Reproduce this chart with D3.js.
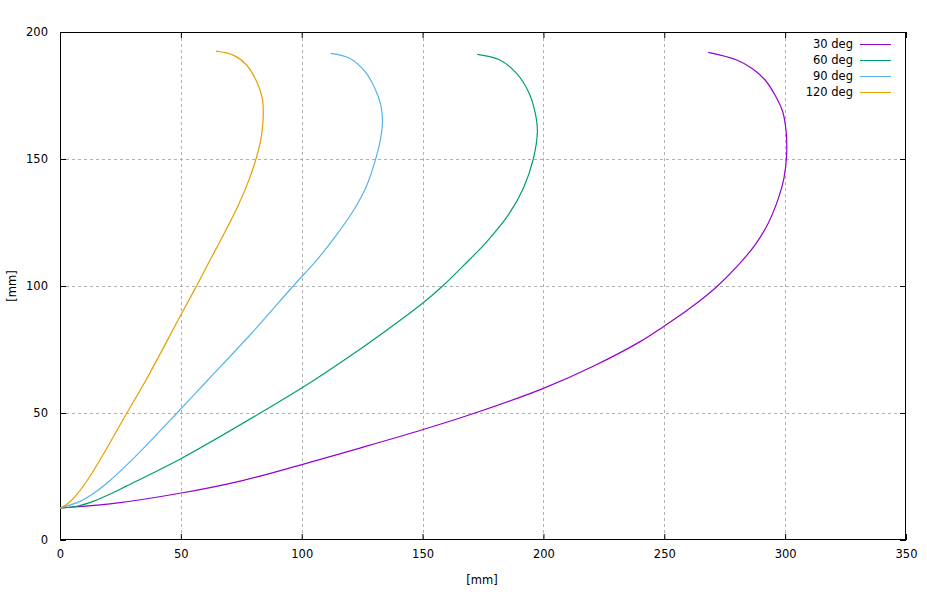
<!DOCTYPE html>
<html><head><meta charset="utf-8">
<script src="https://cdn.jsdelivr.net/npm/d3@7"></script>
<style>body{margin:0;background:#fff}svg{display:block}text{font-family:"DejaVu Sans",sans-serif;font-size:11.5px;fill:#000}</style>
</head><body>
<script>
const seriesNames = ["30 deg","60 deg","90 deg","120 deg"];
const seriesColors = ["#9400d3","#009e73","#56b4e9","#e69f00"];
const xTicks = [0,50,100,150,200,250,300,350];
const yTicks = [0,50,100,150,200];
// points [x mm, y mm] along each curve
const deg30 = [[0,12.6],[20.7,14.2],[49.6,18.4],[75,23.3],[99.7,29.6],[124.1,36.2],[149.9,43.4],[171.7,50.0],[200,59.7],[220.6,68.4],[240,78.1],[249.6,84.0],[260.6,91.2],[271.7,99.7],[280,107.6],[287.5,116.1],[293,124.7],[297.2,134.5],[299.5,142.4],[300.6,151.6],[300.4,160.8],[299,168.6],[295.8,175.2],[291.7,181.1],[286.2,185.7],[280,189.0],[268.2,192.0]];
const deg60 = [[0,12.6],[7,13.3],[14,15.3],[21,18.2],[27.6,21.3],[49.6,31.8],[82.7,49.9],[105.2,63],[124.1,75.1],[132.4,80.7],[150,93.2],[158.3,100],[166.9,108.0],[176.6,117.5],[185.5,128.0],[191.7,138.5],[195.8,150],[197.5,160.8],[196.5,168.6],[193.8,176.5],[188.9,183.7],[182,189.0],[172.6,191.2]];
const deg90 = [[0,12.6],[8.3,15.2],[15,19.1],[20.7,23.4],[27,29],[34,35.6],[48.3,49.9],[60.7,62.5],[78.6,80.7],[96.5,100],[106.2,110.2],[113.8,119.3],[121.4,129.7],[126.9,139.6],[130.6,150],[132.4,156.8],[133.4,164.7],[132.7,171.3],[130.3,177.8],[126.2,184.4],[120,189.6],[112,191.6]];
const deg120 = [[0,12.6],[3,14.2],[7,18],[12,24.5],[19,35.5],[27.6,49.9],[35.6,63],[49.6,87.9],[56.5,100],[62.1,110.2],[67.6,120.1],[73.8,131.9],[77.9,141.1],[81.1,150],[83.4,159.4],[84.1,167.3],[83.7,173.9],[81.4,180.4],[77.2,187.0],[71.7,190.9],[64.5,192.5]];
const series = [deg30,deg60,deg90,deg120];

const W=927,H=608, L=60,R=906,T=32,B=540;
const svg=d3.select("body").append("svg").attr("width",W).attr("height",H);
const x=d3.scaleLinear().domain([0,350]).range([L,R]);
const y=d3.scaleLinear().domain([0,200]).range([B,T]);

// grid
const g=svg.append("g").attr("stroke","#b0b0b0").attr("stroke-dasharray","3,3").attr("stroke-width",1);
xTicks.filter(v=>v>0&&v<350).forEach(v=>g.append("line").attr("x1",Math.round(x(v))+.5).attr("x2",Math.round(x(v))+.5).attr("y1",T).attr("y2",B));
yTicks.filter(v=>v>0&&v<200).forEach(v=>g.append("line").attr("y1",Math.round(y(v))+.5).attr("y2",Math.round(y(v))+.5).attr("x1",L).attr("x2",R));

// axes (inward ticks, mirrored)
const ax=svg.append("g").attr("transform",`translate(0,${B})`).call(d3.axisBottom(x).tickValues(xTicks).tickSize(-6).tickPadding(10));
const ax2=svg.append("g").attr("transform",`translate(0,${T})`).call(d3.axisTop(x).tickValues(xTicks).tickSize(-6).tickFormat(""));
const ay=svg.append("g").attr("transform",`translate(${L},0)`).call(d3.axisLeft(y).tickValues(yTicks).tickSize(-6).tickPadding(12));
const ay2=svg.append("g").attr("transform",`translate(${R},0)`).call(d3.axisRight(y).tickValues(yTicks).tickSize(-6).tickFormat(""));
[ax,ax2,ay,ay2].forEach(a=>{a.select(".domain").remove();a.selectAll("line").attr("stroke","#000");a.selectAll("text").attr("font-family","DejaVu Sans").attr("font-size","11.5px");});
svg.append("rect").attr("x",L+.5).attr("y",T+.5).attr("width",R-L-1).attr("height",B-T-1).attr("fill","none").attr("stroke","#000");

// curves
const line=d3.line().x(d=>x(d[0])).y(d=>y(d[1])).curve(d3.curveCatmullRom.alpha(0.5));
series.forEach((s,i)=>svg.append("path").attr("d",line(s)).attr("fill","none").attr("stroke",seriesColors[i]).attr("stroke-width",1.2));

// legend
seriesNames.forEach((n,i)=>{
  const yy=44+i*16;
  svg.append("text").attr("x",853).attr("y",yy).attr("text-anchor","end").attr("dy","0.35em").text(n);
  svg.append("line").attr("x1",860).attr("x2",891).attr("y1",yy+.5).attr("y2",yy+.5).attr("stroke",seriesColors[i]).attr("stroke-width",1);
});

// axis labels
svg.append("text").attr("x",482).attr("y",584).attr("text-anchor","middle").text("[mm]");
svg.append("text").attr("transform","translate(16,286) rotate(-90)").attr("text-anchor","middle").text("[mm]");
</script>
</body></html>
